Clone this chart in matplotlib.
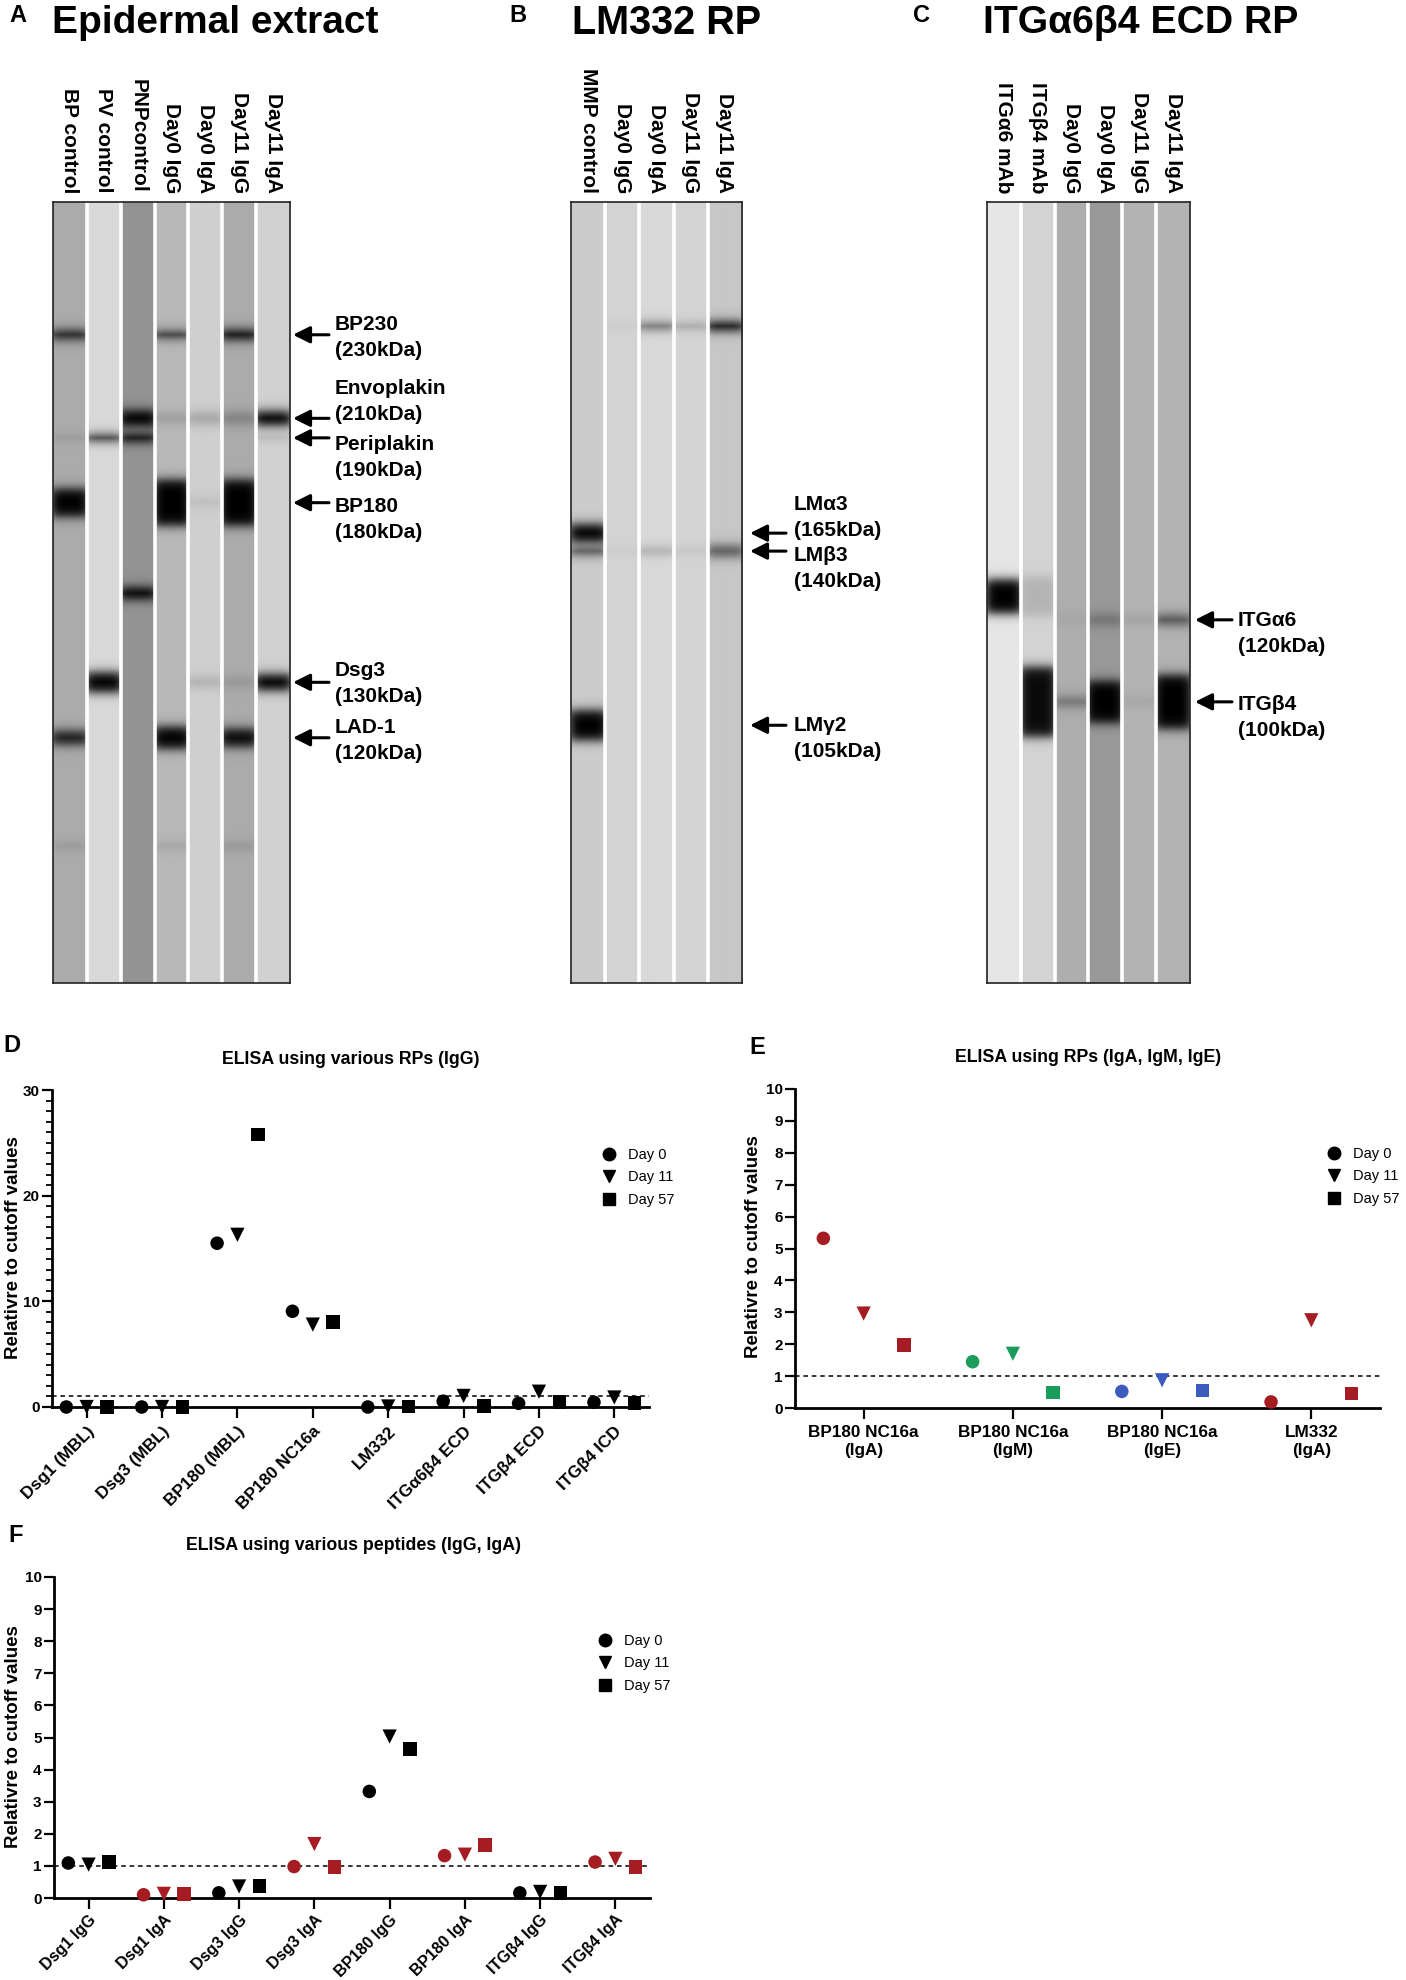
import numpy as np
import matplotlib
matplotlib.use('Agg')
import matplotlib.pyplot as plt
from matplotlib.lines import Line2D
from matplotlib.ticker import MultipleLocator

plt.rcParams['font.family'] = ['Liberation Sans', 'DejaVu Sans']

# ======================= DATA =======================
# ---- Panel A: epidermal extract immunoblot ----
A_lanes = ["BP control", "PV control", "PNPcontrol", "Day0 IgG", "Day0 IgA", "Day11 IgG", "Day11 IgA"]
A_background = [0.33, 0.15, 0.42, 0.28, 0.19, 0.33, 0.18]
A_band_names = ["BP230", "Envoplakin", "Periplakin", "BP180", "", "Dsg3", "LAD-1", ""]
A_band_kda = ["(230kDa)", "(210kDa)", "(190kDa)", "(180kDa)", "", "(130kDa)", "(120kDa)", ""]
A_band_pos = [0.170, 0.277, 0.302, 0.385, 0.501, 0.615, 0.686, 0.825]   # migration, fraction of blot height
A_intensity = [  # rows = lanes, cols = bands
    [0.85, 0.00, 0.12, 1.00, 0.00, 0.00, 0.85, 0.10],
    [0.00, 0.00, 0.80, 0.00, 0.00, 1.00, 0.00, 0.00],
    [0.00, 1.00, 0.95, 0.00, 1.00, 0.00, 0.00, 0.00],
    [0.80, 0.15, 0.00, 1.00, 0.00, 0.00, 1.00, 0.10],
    [0.00, 0.20, 0.00, 0.08, 0.00, 0.15, 0.00, 0.00],
    [0.95, 0.25, 0.00, 1.00, 0.00, 0.12, 0.95, 0.12],
    [0.00, 1.00, 0.12, 0.00, 0.00, 1.00, 0.00, 0.00],
]
A_thickness = [  # band thickness, px of blot
    [9, 0, 4, 28, 0, 0, 14, 8],
    [0, 0, 6, 0, 0, 20, 0, 0],
    [0, 16, 8, 0, 12, 0, 0, 0],
    [6, 10, 0, 46, 0, 0, 22, 8],
    [0, 12, 0, 10, 0, 10, 0, 0],
    [10, 12, 0, 46, 0, 10, 18, 8],
    [0, 14, 5, 0, 0, 16, 0, 0],
]

# ---- Panel B: LM332 RP immunoblot ----
B_lanes = ["MMP control", "Day0 IgG", "Day0 IgA", "Day11 IgG", "Day11 IgA"]
B_background = [0.20, 0.17, 0.15, 0.17, 0.22]
B_band_names = ["", "LM\u03b13", "LM\u03b23", "LM\u03b32"]
B_band_kda = ["", "(165kDa)", "(140kDa)", "(105kDa)"]
B_band_pos = [0.159, 0.424, 0.447, 0.670]
B_intensity = [
    [0.00, 1.00, 0.60, 1.00],
    [0.05, 0.00, 0.05, 0.00],
    [0.50, 0.00, 0.20, 0.00],
    [0.25, 0.00, 0.08, 0.00],
    [0.95, 0.00, 0.55, 0.00],
]
B_thickness = [
    [0, 18, 8, 30],
    [5, 0, 6, 0],
    [7, 0, 8, 0],
    [5, 0, 6, 0],
    [9, 0, 12, 0],
]

# ---- Panel C: ITGa6b4 ECD RP immunoblot ----
C_lanes = ["ITG\u03b16 mAb", "ITG\u03b24 mAb", "Day0 IgG", "Day0 IgA", "Day11 IgG", "Day11 IgA"]
C_background = [0.10, 0.17, 0.32, 0.40, 0.30, 0.30]
C_band_names = ["", "ITG\u03b16", "ITG\u03b24"]
C_band_kda = ["", "(120kDa)", "(100kDa)"]
C_band_pos = [0.505, 0.535, 0.640]
C_intensity = [
    [1.00, 0.00, 0.00],
    [0.15, 0.00, 0.95],
    [0.00, 0.05, 0.35],
    [0.00, 0.25, 1.00],
    [0.00, 0.10, 0.08],
    [0.00, 0.55, 1.00],
]
C_thickness = [
    [34, 0, 0],
    [40, 0, 70],
    [0, 8, 10],
    [0, 12, 42],
    [0, 8, 8],
    [0, 10, 54],
]

# ---- Panel D: ELISA using various RPs (IgG) ----
D_categories = ["Dsg1 (MBL)", "Dsg3 (MBL)", "BP180 (MBL)", "BP180 NC16a", "LM332",
                "ITG\u03b16\u03b24 ECD", "ITG\u03b24 ECD", "ITG\u03b24 ICD"]
D_day0 = [0.0, 0.0, 15.5, 9.06, 0.0, 0.55, 0.35, 0.45]
D_day11 = [0.0, 0.0, 16.3, 7.8, 0.05, 1.05, 1.45, 0.9]
D_day57 = [0.0, 0.0, 25.8, 8.05, 0.05, 0.1, 0.45, 0.4]

# ---- Panel E: ELISA using RPs (IgA, IgM, IgE) ----
E_categories = ["BP180 NC16a\n(IgA)", "BP180 NC16a\n(IgM)", "BP180 NC16a\n(IgE)", "LM332\n(IgA)"]
E_day0 = [5.32, 1.45, 0.52, 0.19]
E_day11 = [2.96, 1.70, 0.87, 2.75]
E_day57 = [1.97, 0.48, 0.55, 0.45]

# ---- Panel F: ELISA using various peptides (IgG, IgA) ----
F_categories = ["Dsg1 IgG", "Dsg1 IgA", "Dsg3 IgG", "Dsg3 IgA", "BP180 IgG", "BP180 IgA",
                "ITG\u03b24 IgG", "ITG\u03b24 IgA"]
F_day0 = [1.09, 0.10, 0.16, 0.98, 3.32, 1.32, 0.16, 1.12]
F_day11 = [1.04, 0.13, 0.36, 1.68, 5.03, 1.35, 0.19, 1.22]
F_day57 = [1.12, 0.13, 0.38, 0.97, 4.65, 1.65, 0.16, 0.96]

days = ["Day 0", "Day 11", "Day 57"]
cutoff = 1.0

# ======================= STYLE =======================
RED = "#A51D22"
GREEN = "#1A9D5B"
BLUE = "#3B5BBF"
BLACK = "#000000"
E_colors = [RED, GREEN, BLUE, RED]
F_colors = [BLACK, RED, BLACK, RED, BLACK, RED, BLACK, RED]
D_colors = [BLACK] * 8
day_markers = ["o", "v", "s"]
day_sizes = [95, 105, 95]
day_offsets = [-0.27, 0.0, 0.27]

W, H = 1406, 1980
fig = plt.figure(figsize=(W / 100, H / 100), dpi=100)
ov = fig.add_axes([0, 0, 1, 1])
ov.set_xlim(0, W)
ov.set_ylim(H, 0)
ov.axis('off')


def fax(x0, y0, x1, y1):
    """axes from pixel box (top-left origin)"""
    return fig.add_axes([x0 / W, 1 - y1 / H, (x1 - x0) / W, (y1 - y0) / H])


BLOT_TOP, BLOT_BOT = 202, 983
BLOT_H = BLOT_BOT - BLOT_TOP


def lane_image(bg, positions, amps, thick, ncols=32):
    yy = (np.arange(BLOT_H) + 0.5)[:, None]
    xx = ((np.arange(ncols) + 0.5) / ncols)[None, :]
    taper = 1 - 0.35 * np.abs(2 * xx - 1) ** 4
    keep = np.ones((BLOT_H, ncols))
    for p, a, t in zip(positions, amps, thick):
        if a <= 0:
            continue
        d = np.abs(yy - p * BLOT_H)
        c = a / (1 + np.exp((d - t / 2.0) / 3.0)) * taper
        keep *= (1 - np.clip(c, 0, 1))
    return 1 - (1 - bg) * keep


def draw_blot(x0, x1, lanes, bg, names, kdas, pos, inten, thick,
              arrow_x, label_x, label_dy, title, title_x, title_fs, letter, letter_x):
    ax = fax(x0, BLOT_TOP, x1, BLOT_BOT)
    n = len(lanes)
    for i in range(n):
        img = lane_image(bg[i], pos, inten[i], thick[i])
        ax.imshow(img, extent=[i, i + 1, 1, 0], cmap='gray_r', vmin=0, vmax=1,
                  aspect='auto', interpolation='bilinear')
    for i in range(1, n):
        ax.axvline(i, color='white', lw=2.6)
    ax.set_xlim(0, n)
    ax.set_ylim(1, 0)
    ax.set_xticks([])
    ax.set_yticks([])
    for s in ax.spines.values():
        s.set_color('#222222')
        s.set_linewidth(1.2)
    lw = (x1 - x0) / n
    for i, lab in enumerate(lanes):
        ov.text(x0 + (i + 0.5) * lw, BLOT_TOP - 9, lab, rotation=270, rotation_mode='anchor',
                ha='right', va='center', fontsize=15, fontweight='bold')
    k = 0
    for nm, kd, p in zip(names, kdas, pos):
        if not nm:
            continue
        y = BLOT_TOP + p * BLOT_H
        ov.annotate('', xy=(arrow_x[0], y), xytext=(arrow_x[1], y),
                    arrowprops=dict(arrowstyle='-|>,head_length=0.6,head_width=0.3',
                                    lw=2.2, color='black', shrinkA=0, shrinkB=0,
                                    mutation_scale=17))
        ly = y + label_dy[k]
        ov.text(label_x, ly, nm, ha='left', va='center', fontsize=15, fontweight='bold')
        ov.text(label_x, ly + 26, kd, ha='left', va='center', fontsize=15, fontweight='bold')
        k += 1
    ov.text(title_x, 23, title, ha='left', va='center', fontsize=title_fs, fontweight='bold')
    ov.text(letter_x, 15, letter, ha='center', va='center', fontsize=17, fontweight='bold')


draw_blot(53, 290, A_lanes, A_background, A_band_names, A_band_kda, A_band_pos,
          A_intensity, A_thickness, (293, 329), 335, [-10, -30, 7, 4, -12, -10],
          "Epidermal extract", 52, 28, "A", 18)
draw_blot(571, 742, B_lanes, B_background, B_band_names, B_band_kda, B_band_pos,
          B_intensity, B_thickness, (750, 786), 794, [-29, 4, 0],
          "LM332 RP", 572, 28.5, "B", 518)
draw_blot(987, 1190, C_lanes, C_background, C_band_names, C_band_kda, C_band_pos,
          C_intensity, C_thickness, (1195, 1232), 1238, [1, 3],
          "ITG\u03b16\u03b24 ECD RP", 983, 28.2, "C", 921)


# ======================= ELISA PANELS =======================
def elisa(box, cats, series, colors, ymax, major, minor, rot, xtick_fs, xpad,
          title, title_xy, letter, letter_xy, ylab_xy, legend_xy):
    ax = fax(*box)
    n = len(cats)
    for j, vals in enumerate(series):
        for i, v in enumerate(vals):
            ax.scatter(i + day_offsets[j], v, marker=day_markers[j], s=day_sizes[j],
                       color=colors[i], edgecolors='none', zorder=4, clip_on=False)
    ax.axhline(cutoff, color='black', lw=1.1, ls=(0, (3, 2.5)), zorder=2)
    ax.set_xlim(-0.46, n - 0.54)
    ax.set_ylim(0, ymax)
    for s in ['top', 'right']:
        ax.spines[s].set_visible(False)
    for s in ['left', 'bottom']:
        ax.spines[s].set_linewidth(2.0)
    ax.yaxis.set_major_locator(MultipleLocator(major))
    if minor:
        ax.yaxis.set_minor_locator(MultipleLocator(minor))
    ax.tick_params(axis='y', which='major', length=7, width=1.6, pad=2, labelsize=11)
    ax.tick_params(axis='y', which='minor', length=4, width=1.3)
    ax.tick_params(axis='x', which='major', length=8, width=1.6, pad=xpad)
    ax.set_xticks(range(n))
    if rot:
        ax.set_xticklabels(cats, rotation=45, ha='right', rotation_mode='anchor',
                           fontsize=xtick_fs, fontweight='bold')
    else:
        ax.set_xticklabels(cats, fontsize=xtick_fs, fontweight='bold', linespacing=1.3)
    for t in ax.get_yticklabels():
        t.set_fontweight('bold')
    ov.text(title_xy[0], title_xy[1], title, ha='center', va='center', fontsize=12.8,
            fontweight='bold')
    ov.text(letter_xy[0], letter_xy[1], letter, ha='center', va='center', fontsize=17,
            fontweight='bold')
    ov.text(ylab_xy[0], ylab_xy[1], "Relativre to cutoff values", rotation=90, ha='center',
            va='center', fontsize=13.5, fontweight='bold')
    handles = [Line2D([], [], marker=m, color='black', linestyle='none', markersize=9)
               for m in day_markers]
    ax.legend(handles, days, loc='upper left', bbox_to_anchor=legend_xy,
              bbox_transform=ov.transData, frameon=False, fontsize=10.5, handlelength=1.0,
              handletextpad=0.8, labelspacing=0.58, borderpad=0, borderaxespad=0)
    return ax


elisa((52, 1090, 649, 1407), D_categories, [D_day0, D_day11, D_day57], D_colors,
      30, 10, 1, True, 12.3, 4, "ELISA using various RPs (IgG)", (351, 1060), "D", (12, 1046),
      (14, 1248), (602, 1148))
elisa((795, 1089, 1380, 1408), E_categories, [E_day0, E_day11, E_day57], E_colors,
      10, 1, None, False, 12.3, 4, "ELISA using RPs (IgA, IgM, IgE)", (1088, 1058), "E",
      (757, 1047), (753, 1247), (1327, 1147))
elisa((54, 1577, 650, 1898), F_categories, [F_day0, F_day11, F_day57], F_colors,
      10, 1, None, True, 11.6, 2, "ELISA using various peptides (IgG, IgA)", (353, 1545), "F",
      (16, 1535), (14, 1737), (598, 1634))

fig.savefig("out.png", dpi=100)
